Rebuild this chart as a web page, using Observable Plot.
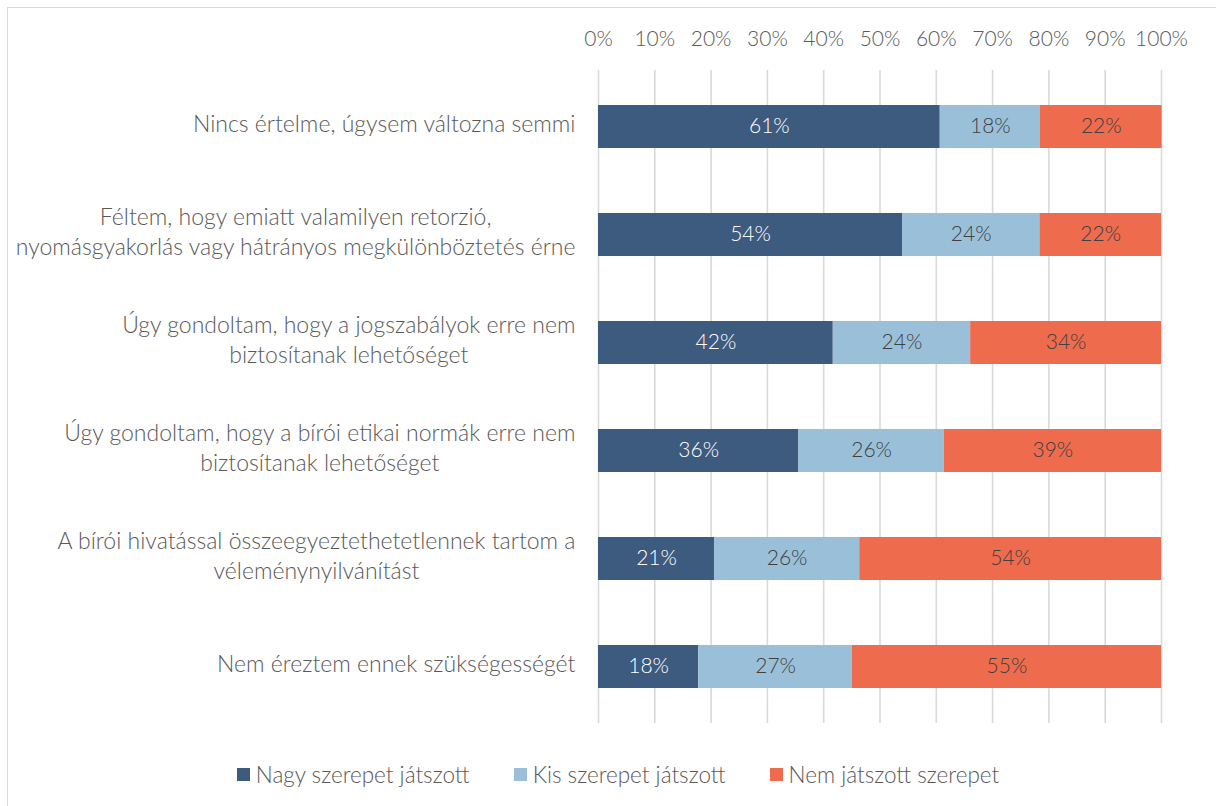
<!DOCTYPE html>
<html><head><meta charset="utf-8">
<script src="https://cdn.jsdelivr.net/npm/d3@7"></script>
<script src="https://cdn.jsdelivr.net/npm/@observablehq/plot@0.6"></script>
<style>
body{margin:0;background:#fff;font-family:Lato,sans-serif;}
#wrap{position:relative;width:1216px;height:806px;overflow:hidden;background:#fff;}
#frame{position:absolute;left:7px;top:7px;width:1240px;height:830px;border:1.5px solid #d9d9d9;}
#chart{position:absolute;left:0;top:0;}
#chart svg text{font-weight:300;}
#legend{position:absolute;left:0;width:1236px;top:761px;display:flex;justify-content:center;gap:44px;font-size:22.5px;font-weight:300;color:#595959;font-family:Lato,sans-serif;}
.item{display:flex;align-items:center;}
.sw{width:13px;height:13px;margin-right:6px;}
</style></head>
<body>
<div id="wrap"><div id="frame"></div><div id="chart"></div><div id="legend"></div></div>
<script>
const categories = [
  "Nincs értelme, úgysem változna semmi",
  "Féltem, hogy emiatt valamilyen retorzió,\nnyomásgyakorlás vagy hátrányos megkülönböztetés érne",
  "Úgy gondoltam, hogy a jogszabályok erre nem\nbiztosítanak lehetőséget",
  "Úgy gondoltam, hogy a bírói etikai normák erre nem\nbiztosítanak lehetőséget",
  "A bírói hivatással összeegyeztethetetlennek tartom a\nvéleménynyilvánítást",
  "Nem éreztem ennek szükségességét"
];
const series = ["Nagy szerepet játszott", "Kis szerepet játszott", "Nem játszott szerepet"];
const colors = ["#3d5a7f", "#9ac0d9", "#ef6b4d"];
const nagy = [60.7, 54.0, 41.7, 35.6, 20.6, 17.8];
const kis  = [17.8, 24.4, 24.4, 25.8, 25.8, 27.3];
const nem  = [21.6, 21.6, 33.9, 38.6, 53.6, 54.9];
const xTicks = [0, 10, 20, 30, 40, 50, 60, 70, 80, 90, 100];

const valuesBySeries = [nagy, kis, nem];
const data = [];
categories.forEach((c, i) => series.forEach((s, j) => data.push({cat: c, series: s, value: valuesBySeries[j][i]})));
const lab = d => Math.round(d.value) + "%";

const plot = Plot.plot({
  width: 1216,
  height: 806,
  marginLeft: 598,
  marginRight: 55,
  marginTop: 70,
  marginBottom: 83,
  style: {fontFamily: "Lato, sans-serif", fontSize: "20px", color: "#595959", background: "transparent"},
  x: {domain: [0, 100]},
  y: {domain: categories, paddingInner: 0.6, paddingOuter: 0.3},
  color: {domain: series, range: colors},
  marks: [
    Plot.gridX(xTicks, {stroke: "#d9d9d9", strokeOpacity: 1, strokeWidth: 1.6}),
    Plot.barX(data, Plot.stackX({x: "value", y: "cat", fill: "series", order: series})),
    Plot.text(data, Plot.stackX({x: "value", y: "cat", z: "series", order: series,
      text: d => d.series === series[0] ? lab(d) : "", fill: "white", fontSize: 21, dy: -1})),
    Plot.text(data, Plot.stackX({x: "value", y: "cat", z: "series", order: series,
      text: d => d.series !== series[0] ? lab(d) : "", fill: "#404040", fontSize: 21, dy: -1})),
    Plot.axisX({anchor: "top", ticks: xTicks, tickFormat: d => d + "%", tickSize: 0, tickPadding: 25, fontSize: 21, label: null}),
    Plot.axisY({anchor: "left", tickSize: 0, tickPadding: 23, fontSize: 23, lineHeight: 1.3, dy: -5, label: null, lineWidth: Infinity})
  ]
});
document.getElementById("chart").appendChild(plot);

// center lines within each (right-aligned) category label block
plot.querySelectorAll('g[aria-label="y-axis tick label"] text').forEach(t => {
  const w = t.getBBox().width;
  t.setAttribute("text-anchor", "middle");
  const ts = t.querySelectorAll("tspan");
  if (ts.length) ts.forEach(s => s.setAttribute("x", -w / 2));
  else t.setAttribute("x", -w / 2);
});

const leg = document.getElementById("legend");
series.forEach((s, i) => {
  const it = document.createElement("div"); it.className = "item";
  const sw = document.createElement("div"); sw.className = "sw"; sw.style.background = colors[i];
  const tx = document.createElement("span"); tx.textContent = s;
  it.appendChild(sw); it.appendChild(tx); leg.appendChild(it);
});
</script>
</body></html>
